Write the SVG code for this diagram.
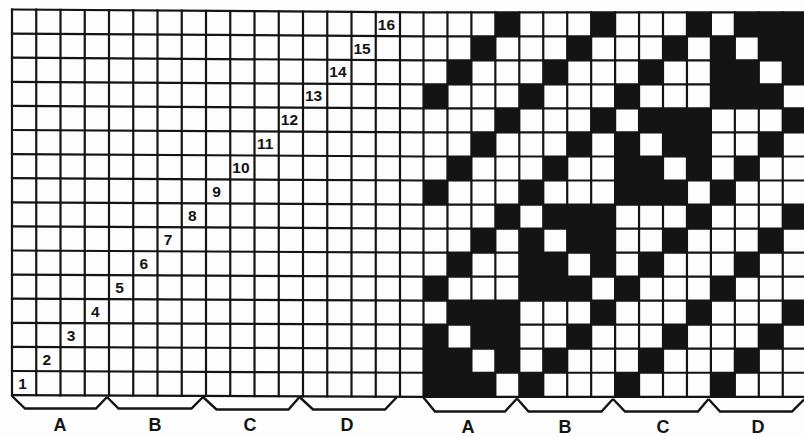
<svg xmlns="http://www.w3.org/2000/svg" width="804" height="436" viewBox="0 0 804 436">
<style>
.bg{fill:#fdfdfd}
.g line,.g polyline{stroke:#141414;stroke-width:2.2;fill:none;stroke-linecap:square}
.blk{fill:#141414}
.br{stroke:#141414;stroke-width:2.4;fill:none;stroke-linejoin:miter}
.num{font-family:"Liberation Sans",Arial,sans-serif;font-size:15.5px;font-weight:bold;fill:#141414;text-anchor:middle}
.lab{font-family:"Liberation Sans",Arial,sans-serif;font-size:18px;font-weight:bold;fill:#141414;text-anchor:middle}
</style>
<rect class="bg" x="0" y="0" width="804" height="436"/>
<g id="drawdown-cells">
<rect class="blk" x="495.35" y="12.3" width="23.95" height="24.03"/>
<rect class="blk" x="591.15" y="12.3" width="23.95" height="24.03"/>
<rect class="blk" x="686.95" y="12.3" width="23.95" height="24.03"/>
<rect class="blk" x="734.85" y="12.3" width="71.85" height="24.03"/>
<rect class="blk" x="471.4" y="36.33" width="23.95" height="24.03"/>
<rect class="blk" x="567.2" y="36.33" width="23.95" height="24.03"/>
<rect class="blk" x="663" y="36.33" width="23.95" height="24.03"/>
<rect class="blk" x="710.9" y="36.33" width="23.95" height="24.03"/>
<rect class="blk" x="758.8" y="36.33" width="47.9" height="24.03"/>
<rect class="blk" x="447.45" y="60.36" width="23.95" height="24.03"/>
<rect class="blk" x="543.25" y="60.36" width="23.95" height="24.03"/>
<rect class="blk" x="639.05" y="60.36" width="23.95" height="24.03"/>
<rect class="blk" x="710.9" y="60.36" width="47.9" height="24.03"/>
<rect class="blk" x="782.75" y="60.36" width="23.95" height="24.03"/>
<rect class="blk" x="423.5" y="84.39" width="23.95" height="24.03"/>
<rect class="blk" x="519.3" y="84.39" width="23.95" height="24.03"/>
<rect class="blk" x="615.1" y="84.39" width="23.95" height="24.03"/>
<rect class="blk" x="710.9" y="84.39" width="71.85" height="24.03"/>
<rect class="blk" x="495.35" y="108.42" width="23.95" height="24.03"/>
<rect class="blk" x="591.15" y="108.42" width="23.95" height="24.03"/>
<rect class="blk" x="639.05" y="108.42" width="71.85" height="24.03"/>
<rect class="blk" x="782.75" y="108.42" width="23.95" height="24.03"/>
<rect class="blk" x="471.4" y="132.45" width="23.95" height="24.03"/>
<rect class="blk" x="567.2" y="132.45" width="23.95" height="24.03"/>
<rect class="blk" x="615.1" y="132.45" width="23.95" height="24.03"/>
<rect class="blk" x="663" y="132.45" width="47.9" height="24.03"/>
<rect class="blk" x="758.8" y="132.45" width="23.95" height="24.03"/>
<rect class="blk" x="447.45" y="156.48" width="23.95" height="24.03"/>
<rect class="blk" x="543.25" y="156.48" width="23.95" height="24.03"/>
<rect class="blk" x="615.1" y="156.48" width="47.9" height="24.03"/>
<rect class="blk" x="686.95" y="156.48" width="23.95" height="24.03"/>
<rect class="blk" x="734.85" y="156.48" width="23.95" height="24.03"/>
<rect class="blk" x="423.5" y="180.51" width="23.95" height="24.03"/>
<rect class="blk" x="519.3" y="180.51" width="23.95" height="24.03"/>
<rect class="blk" x="615.1" y="180.51" width="71.85" height="24.03"/>
<rect class="blk" x="710.9" y="180.51" width="23.95" height="24.03"/>
<rect class="blk" x="495.35" y="204.54" width="23.95" height="24.03"/>
<rect class="blk" x="543.25" y="204.54" width="71.85" height="24.03"/>
<rect class="blk" x="686.95" y="204.54" width="23.95" height="24.03"/>
<rect class="blk" x="782.75" y="204.54" width="23.95" height="24.03"/>
<rect class="blk" x="471.4" y="228.57" width="23.95" height="24.03"/>
<rect class="blk" x="519.3" y="228.57" width="23.95" height="24.03"/>
<rect class="blk" x="567.2" y="228.57" width="47.9" height="24.03"/>
<rect class="blk" x="663" y="228.57" width="23.95" height="24.03"/>
<rect class="blk" x="758.8" y="228.57" width="23.95" height="24.03"/>
<rect class="blk" x="447.45" y="252.6" width="23.95" height="24.03"/>
<rect class="blk" x="519.3" y="252.6" width="47.9" height="24.03"/>
<rect class="blk" x="591.15" y="252.6" width="23.95" height="24.03"/>
<rect class="blk" x="639.05" y="252.6" width="23.95" height="24.03"/>
<rect class="blk" x="734.85" y="252.6" width="23.95" height="24.03"/>
<rect class="blk" x="423.5" y="276.63" width="23.95" height="24.03"/>
<rect class="blk" x="519.3" y="276.63" width="71.85" height="24.03"/>
<rect class="blk" x="615.1" y="276.63" width="23.95" height="24.03"/>
<rect class="blk" x="710.9" y="276.63" width="23.95" height="24.03"/>
<rect class="blk" x="447.45" y="300.66" width="71.85" height="24.03"/>
<rect class="blk" x="591.15" y="300.66" width="23.95" height="24.03"/>
<rect class="blk" x="686.95" y="300.66" width="23.95" height="24.03"/>
<rect class="blk" x="782.75" y="300.66" width="23.95" height="24.03"/>
<rect class="blk" x="423.5" y="324.69" width="23.95" height="24.03"/>
<rect class="blk" x="471.4" y="324.69" width="47.9" height="24.03"/>
<rect class="blk" x="567.2" y="324.69" width="23.95" height="24.03"/>
<rect class="blk" x="663" y="324.69" width="23.95" height="24.03"/>
<rect class="blk" x="758.8" y="324.69" width="23.95" height="24.03"/>
<rect class="blk" x="423.5" y="348.72" width="47.9" height="24.03"/>
<rect class="blk" x="495.35" y="348.72" width="23.95" height="24.03"/>
<rect class="blk" x="543.25" y="348.72" width="23.95" height="24.03"/>
<rect class="blk" x="639.05" y="348.72" width="23.95" height="24.03"/>
<rect class="blk" x="734.85" y="348.72" width="23.95" height="24.03"/>
<rect class="blk" x="423.5" y="372.75" width="71.85" height="24.03"/>
<rect class="blk" x="519.3" y="372.75" width="23.95" height="24.03"/>
<rect class="blk" x="615.1" y="372.75" width="23.95" height="24.03"/>
<rect class="blk" x="710.9" y="372.75" width="23.95" height="24.03"/>
</g>
<g id="grid-lines" class="g">
<polyline points="12,9.5 423.5,12.3 807,12.3"/>
<polyline points="12,33.6 423.5,36.33 807,36.33"/>
<polyline points="12,57.7 423.5,60.36 807,60.36"/>
<polyline points="12,81.8 423.5,84.39 807,84.39"/>
<polyline points="12,105.9 423.5,108.42 807,108.42"/>
<polyline points="12,130 423.5,132.45 807,132.45"/>
<polyline points="12,154.1 423.5,156.48 807,156.48"/>
<polyline points="12,178.2 423.5,180.51 807,180.51"/>
<polyline points="12,202.3 423.5,204.54 807,204.54"/>
<polyline points="12,226.4 423.5,228.57 807,228.57"/>
<polyline points="12,250.5 423.5,252.6 807,252.6"/>
<polyline points="12,274.6 423.5,276.63 807,276.63"/>
<polyline points="12,298.7 423.5,300.66 807,300.66"/>
<polyline points="12,322.8 423.5,324.69 807,324.69"/>
<polyline points="12,346.9 423.5,348.72 807,348.72"/>
<polyline points="12,371 423.5,372.75 807,372.75"/>
<polyline points="12,395.1 423.5,396.78 807,396.78"/>
<line x1="12" y1="9.5" x2="12" y2="395.1"/>
<line x1="36.25" y1="9.67" x2="36.25" y2="395.2"/>
<line x1="60.5" y1="9.83" x2="60.5" y2="395.3"/>
<line x1="84.75" y1="9.99" x2="84.75" y2="395.4"/>
<line x1="109" y1="10.16" x2="109" y2="395.5"/>
<line x1="133.25" y1="10.32" x2="133.25" y2="395.6"/>
<line x1="157.5" y1="10.49" x2="157.5" y2="395.7"/>
<line x1="181.75" y1="10.65" x2="181.75" y2="395.8"/>
<line x1="206" y1="10.82" x2="206" y2="395.9"/>
<line x1="230.25" y1="10.98" x2="230.25" y2="396"/>
<line x1="254.5" y1="11.15" x2="254.5" y2="396.1"/>
<line x1="278.75" y1="11.31" x2="278.75" y2="396.2"/>
<line x1="303" y1="11.48" x2="303" y2="396.3"/>
<line x1="327.25" y1="11.64" x2="327.25" y2="396.4"/>
<line x1="351.5" y1="11.81" x2="351.5" y2="396.5"/>
<line x1="375.75" y1="11.97" x2="375.75" y2="396.6"/>
<line x1="400" y1="12.14" x2="400" y2="396.7"/>
<line x1="423.5" y1="12.3" x2="423.5" y2="396.78"/>
<line x1="447.45" y1="12.3" x2="447.45" y2="396.78"/>
<line x1="471.4" y1="12.3" x2="471.4" y2="396.78"/>
<line x1="495.35" y1="12.3" x2="495.35" y2="396.78"/>
<line x1="519.3" y1="12.3" x2="519.3" y2="396.78"/>
<line x1="543.25" y1="12.3" x2="543.25" y2="396.78"/>
<line x1="567.2" y1="12.3" x2="567.2" y2="396.78"/>
<line x1="591.15" y1="12.3" x2="591.15" y2="396.78"/>
<line x1="615.1" y1="12.3" x2="615.1" y2="396.78"/>
<line x1="639.05" y1="12.3" x2="639.05" y2="396.78"/>
<line x1="663" y1="12.3" x2="663" y2="396.78"/>
<line x1="686.95" y1="12.3" x2="686.95" y2="396.78"/>
<line x1="710.9" y1="12.3" x2="710.9" y2="396.78"/>
<line x1="734.85" y1="12.3" x2="734.85" y2="396.78"/>
<line x1="758.8" y1="12.3" x2="758.8" y2="396.78"/>
<line x1="782.75" y1="12.3" x2="782.75" y2="396.78"/>
</g>
<g id="numbers">
<text class="num" x="22.6" y="388.6">1</text>
<text class="num" x="46.9" y="364.6">2</text>
<text class="num" x="71.1" y="340.6">3</text>
<text class="num" x="95.4" y="316.7">4</text>
<text class="num" x="119.6" y="292.7">5</text>
<text class="num" x="143.9" y="268.7">6</text>
<text class="num" x="168.1" y="244.8">7</text>
<text class="num" x="192.4" y="220.8">8</text>
<text class="num" x="216.6" y="196.9">9</text>
<text class="num" x="240.9" y="173">10</text>
<text class="num" x="265.1" y="149.1">11</text>
<text class="num" x="289.4" y="125.2">12</text>
<text class="num" x="313.6" y="101.3">13</text>
<text class="num" x="337.9" y="77.4">14</text>
<text class="num" x="362.1" y="53.5">15</text>
<text class="num" x="386.4" y="29.6">16</text>
</g>
<g id="brackets">
<polyline class="br" points="12,396 25,408.5 96,408.5 107,397"/>
<polyline class="br" points="107,397 118.5,408.5 191.5,408.5 203,397"/>
<polyline class="br" points="203,397 216.5,409.5 288.5,409.5 299.5,397"/>
<polyline class="br" points="299.5,397 313,409.5 385,409.5 397,397"/>
<polyline class="br" points="423.5,397.5 435,411.5 505,411.5 517,398.5"/>
<polyline class="br" points="517,398.5 528.5,411.5 601.5,411.5 613,399"/>
<polyline class="br" points="613,399 625,411.5 698,411.5 708.5,399"/>
<polyline class="br" points="708.5,399 720,411.5 792,411.5 804,399.5"/>
</g>
<g id="labels">
<text class="lab" x="60" y="431">A</text>
<text class="lab" x="155" y="431">B</text>
<text class="lab" x="250" y="431">C</text>
<text class="lab" x="347" y="431">D</text>
<text class="lab" x="468" y="432.5">A</text>
<text class="lab" x="565" y="432.5">B</text>
<text class="lab" x="663" y="432.5">C</text>
<text class="lab" x="758" y="432.5">D</text>
</g>
</svg>
